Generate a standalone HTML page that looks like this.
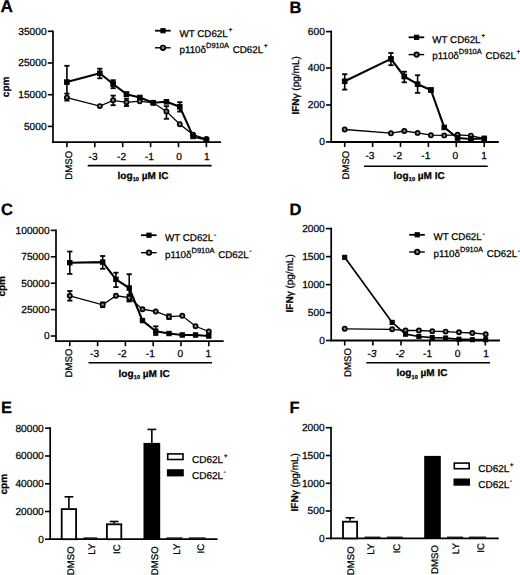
<!DOCTYPE html><html><head><meta charset="utf-8"><style>text{stroke:#000;stroke-width:0.25px;text-rendering:geometricPrecision;}line,polyline{stroke:#000;}html,body{margin:0;padding:0;background:#fff;}svg{display:block;}</style></head><body>
<svg width="520" height="575" viewBox="0 0 520 575" font-family="Liberation Sans, sans-serif" fill="#000" stroke="#000">
<rect x="0" y="0" width="520" height="575" fill="#fff" stroke="none"/>
<g stroke="none" fill="#111">
</g>
<g>
<line x1="53" y1="30.4" x2="53" y2="143" stroke-width="1.7"/>
<line x1="47.8" y1="31.3" x2="53" y2="31.3" stroke-width="1.6"/>
<text x="46.6" y="34.7" font-size="10.2" text-anchor="end" font-weight="normal" >35000</text>
<line x1="47.8" y1="63" x2="53" y2="63" stroke-width="1.6"/>
<text x="46.6" y="66.4" font-size="10.2" text-anchor="end" font-weight="normal" >25000</text>
<line x1="47.8" y1="94.7" x2="53" y2="94.7" stroke-width="1.6"/>
<text x="46.6" y="98.1" font-size="10.2" text-anchor="end" font-weight="normal" >15000</text>
<line x1="47.8" y1="126.4" x2="53" y2="126.4" stroke-width="1.6"/>
<text x="46.6" y="129.8" font-size="10.2" text-anchor="end" font-weight="normal" >5000</text>
<line x1="52.2" y1="142.2" x2="221" y2="142.2" stroke-width="1.8"/>
<line x1="66.9" y1="142.2" x2="66.9" y2="147.2" stroke-width="1.6"/>
<text transform="translate(72.26 150.9) rotate(-90)" font-size="9.6" text-anchor="end" font-weight="normal">DMSO</text>
<line x1="94.8" y1="142.2" x2="94.8" y2="147.2" stroke-width="1.6"/>
<text x="93.1" y="159.6" font-size="10.2" text-anchor="middle" font-weight="normal" >-3</text>
<line x1="122.7" y1="142.2" x2="122.7" y2="147.2" stroke-width="1.6"/>
<text x="121.6" y="159.6" font-size="10.2" text-anchor="middle" font-weight="normal" >-2</text>
<line x1="150.6" y1="142.2" x2="150.6" y2="147.2" stroke-width="1.6"/>
<text x="149.3" y="159.6" font-size="10.2" text-anchor="middle" font-weight="normal" >-1</text>
<line x1="178.5" y1="142.2" x2="178.5" y2="147.2" stroke-width="1.6"/>
<text x="179" y="159.6" font-size="10.2" text-anchor="middle" font-weight="normal" >0</text>
<line x1="206.4" y1="142.2" x2="206.4" y2="147.2" stroke-width="1.6"/>
<text x="206.9" y="159.6" font-size="10.2" text-anchor="middle" font-weight="normal" >1</text>
<line x1="87.7" y1="165.6" x2="211.6" y2="165.6" stroke-width="1.6"/>
<text x="117.5" y="178.6" font-size="10" font-weight="bold">log<tspan font-size="5.6" dy="2.2" dx="0.2">10</tspan><tspan dy="-2.2"> &#181;M IC</tspan></text>
<polyline fill="none" stroke-width="1.3" points="66.9,97.6 99.82,106.1 113.15,100.3 126.47,102.3 139.8,101.2 153.13,102.8 166.45,111.4 179.78,124.3 193.1,134.6 206.43,139"/>
<polyline fill="none" stroke-width="2.1" stroke-linejoin="round" points="66.9,82.1 99.82,73.3 113.15,84 126.47,94.2 139.8,97.5 153.13,102.8 166.45,101.8 179.78,106.8 193.1,136.4 206.43,139.8"/>
<line x1="66.9" y1="65.8" x2="66.9" y2="97.6" stroke-width="1.6"/>
<line x1="64.3" y1="65.8" x2="69.5" y2="65.8" stroke-width="1.8"/>
<line x1="64.3" y1="97.6" x2="69.5" y2="97.6" stroke-width="1.8"/>
<line x1="99.82" y1="68.7" x2="99.82" y2="78.3" stroke-width="1.6"/>
<line x1="97.22" y1="68.7" x2="102.42" y2="68.7" stroke-width="1.8"/>
<line x1="97.22" y1="78.3" x2="102.42" y2="78.3" stroke-width="1.8"/>
<line x1="113.15" y1="80.2" x2="113.15" y2="88.2" stroke-width="1.6"/>
<line x1="110.55" y1="80.2" x2="115.75" y2="80.2" stroke-width="1.8"/>
<line x1="110.55" y1="88.2" x2="115.75" y2="88.2" stroke-width="1.8"/>
<line x1="126.47" y1="92.4" x2="126.47" y2="96" stroke-width="1.6"/>
<line x1="123.87" y1="92.4" x2="129.07" y2="92.4" stroke-width="1.8"/>
<line x1="123.87" y1="96" x2="129.07" y2="96" stroke-width="1.8"/>
<line x1="179.78" y1="102.2" x2="179.78" y2="111.6" stroke-width="1.6"/>
<line x1="177.18" y1="102.2" x2="182.38" y2="102.2" stroke-width="1.8"/>
<line x1="177.18" y1="111.6" x2="182.38" y2="111.6" stroke-width="1.8"/>
<line x1="66.9" y1="93.6" x2="66.9" y2="100.6" stroke-width="1.6"/>
<line x1="64.3" y1="93.6" x2="69.5" y2="93.6" stroke-width="1.8"/>
<line x1="64.3" y1="100.6" x2="69.5" y2="100.6" stroke-width="1.8"/>
<line x1="113.15" y1="95.6" x2="113.15" y2="105.2" stroke-width="1.6"/>
<line x1="110.55" y1="95.6" x2="115.75" y2="95.6" stroke-width="1.8"/>
<line x1="110.55" y1="105.2" x2="115.75" y2="105.2" stroke-width="1.8"/>
<line x1="126.47" y1="98.6" x2="126.47" y2="106" stroke-width="1.6"/>
<line x1="123.87" y1="98.6" x2="129.07" y2="98.6" stroke-width="1.8"/>
<line x1="123.87" y1="106" x2="129.07" y2="106" stroke-width="1.8"/>
<line x1="166.45" y1="106.2" x2="166.45" y2="118.8" stroke-width="1.6"/>
<line x1="163.85" y1="106.2" x2="169.05" y2="106.2" stroke-width="1.8"/>
<line x1="163.85" y1="118.8" x2="169.05" y2="118.8" stroke-width="1.8"/>
<circle cx="66.9" cy="97.6" r="2.1" fill="#888" stroke="#000" stroke-width="1.7"/>
<circle cx="99.82" cy="106.1" r="2.1" fill="#888" stroke="#000" stroke-width="1.7"/>
<circle cx="113.15" cy="100.3" r="2.1" fill="#888" stroke="#000" stroke-width="1.7"/>
<circle cx="126.47" cy="102.3" r="2.1" fill="#888" stroke="#000" stroke-width="1.7"/>
<circle cx="139.8" cy="101.2" r="2.1" fill="#888" stroke="#000" stroke-width="1.7"/>
<circle cx="153.13" cy="102.8" r="2.1" fill="#888" stroke="#000" stroke-width="1.7"/>
<circle cx="166.45" cy="111.4" r="2.1" fill="#888" stroke="#000" stroke-width="1.7"/>
<circle cx="179.78" cy="124.3" r="2.1" fill="#888" stroke="#000" stroke-width="1.7"/>
<circle cx="193.1" cy="134.6" r="2.1" fill="#888" stroke="#000" stroke-width="1.7"/>
<circle cx="206.43" cy="139" r="2.1" fill="#888" stroke="#000" stroke-width="1.7"/>
<rect x="64.6" y="79.8" width="4.6" height="4.6" fill="#000"/>
<rect x="97.52" y="71" width="4.6" height="4.6" fill="#000"/>
<rect x="110.85" y="81.7" width="4.6" height="4.6" fill="#000"/>
<rect x="124.17" y="91.9" width="4.6" height="4.6" fill="#000"/>
<rect x="137.5" y="95.2" width="4.6" height="4.6" fill="#000"/>
<rect x="150.83" y="100.5" width="4.6" height="4.6" fill="#000"/>
<rect x="164.15" y="99.5" width="4.6" height="4.6" fill="#000"/>
<rect x="177.48" y="104.5" width="4.6" height="4.6" fill="#000"/>
<rect x="190.8" y="134.1" width="4.6" height="4.6" fill="#000"/>
<rect x="204.13" y="137.5" width="4.6" height="4.6" fill="#000"/>
<text transform="translate(9 86.9) rotate(-90)" font-size="10" text-anchor="middle" font-weight="bold">cpm</text>
<line x1="155" y1="30.7" x2="170.6" y2="30.7" stroke-width="1.8"/>
<rect x="160.9" y="28.6" width="4.2" height="4.2" fill="#000"/>
<line x1="155" y1="47.8" x2="170.6" y2="47.8" stroke-width="1.4"/>
<circle cx="163" cy="47.8" r="2.3" fill="#888" stroke="#000" stroke-width="1.7"/>
<text x="179.5" y="36.8" font-size="9.8">WT CD62L<tspan font-size="6.8" dx="0.6" dy="-5.3">+</tspan></text>
<text x="179.5" y="53.2" font-size="9.8">p110&#948;<tspan font-size="7.5" dy="-5">D910A</tspan><tspan dy="5" dx="1"> CD62L</tspan><tspan font-size="6.8" dx="0.6" dy="-5.3">+</tspan></text>
<text x="0.4" y="12.4" font-size="17.2" text-anchor="start" font-weight="bold" >A</text>
</g>
<g>
<line x1="331.2" y1="30.6" x2="331.2" y2="142.8" stroke-width="1.7"/>
<line x1="326" y1="31.6" x2="331.2" y2="31.6" stroke-width="1.6"/>
<text x="324.8" y="35" font-size="10.2" text-anchor="end" font-weight="normal" >600</text>
<line x1="326" y1="68" x2="331.2" y2="68" stroke-width="1.6"/>
<text x="324.8" y="71.4" font-size="10.2" text-anchor="end" font-weight="normal" >400</text>
<line x1="326" y1="105" x2="331.2" y2="105" stroke-width="1.6"/>
<text x="324.8" y="108.4" font-size="10.2" text-anchor="end" font-weight="normal" >200</text>
<line x1="326" y1="141.9" x2="331.2" y2="141.9" stroke-width="1.6"/>
<text x="324.8" y="145.3" font-size="10.2" text-anchor="end" font-weight="normal" >0</text>
<line x1="330.4" y1="142" x2="498.8" y2="142" stroke-width="1.8"/>
<line x1="344.7" y1="142" x2="344.7" y2="147" stroke-width="1.6"/>
<text transform="translate(348.66 150.7) rotate(-90)" font-size="9.6" text-anchor="end" font-weight="normal">DMSO</text>
<line x1="372.6" y1="142" x2="372.6" y2="147" stroke-width="1.6"/>
<text x="370" y="159.2" font-size="10.2" text-anchor="middle" font-weight="normal" >-3</text>
<line x1="400.5" y1="142" x2="400.5" y2="147" stroke-width="1.6"/>
<text x="397.6" y="159.2" font-size="10.2" text-anchor="middle" font-weight="normal" >-2</text>
<line x1="428.4" y1="142" x2="428.4" y2="147" stroke-width="1.6"/>
<text x="425.8" y="159.2" font-size="10.2" text-anchor="middle" font-weight="normal" >-1</text>
<line x1="456.3" y1="142" x2="456.3" y2="147" stroke-width="1.6"/>
<text x="455.4" y="159.2" font-size="10.2" text-anchor="middle" font-weight="normal" >0</text>
<line x1="484.2" y1="142" x2="484.2" y2="147" stroke-width="1.6"/>
<text x="484.1" y="159.2" font-size="10.2" text-anchor="middle" font-weight="normal" >1</text>
<line x1="364" y1="166.3" x2="487.7" y2="166.3" stroke-width="1.6"/>
<text x="393.6" y="179" font-size="10" font-weight="bold">log<tspan font-size="5.6" dy="2.2" dx="0.2">10</tspan><tspan dy="-2.2"> &#181;M IC</tspan></text>
<polyline fill="none" stroke-width="1.3" points="344.7,129.5 390.95,133.2 404.27,131 417.6,132.9 430.93,135.2 444.25,135.4 457.58,134.8 470.9,135.6 484.23,138.6"/>
<polyline fill="none" stroke-width="2.1" stroke-linejoin="round" points="344.7,81.3 390.95,58.9 404.27,76.5 417.6,84.2 430.93,90 444.25,127.4 457.58,138 470.9,139 484.23,138.4"/>
<line x1="344.7" y1="74.2" x2="344.7" y2="89.6" stroke-width="1.6"/>
<line x1="342.1" y1="74.2" x2="347.3" y2="74.2" stroke-width="1.8"/>
<line x1="342.1" y1="89.6" x2="347.3" y2="89.6" stroke-width="1.8"/>
<line x1="390.95" y1="53" x2="390.95" y2="65.2" stroke-width="1.6"/>
<line x1="388.35" y1="53" x2="393.55" y2="53" stroke-width="1.8"/>
<line x1="388.35" y1="65.2" x2="393.55" y2="65.2" stroke-width="1.8"/>
<line x1="404.27" y1="71.7" x2="404.27" y2="82.3" stroke-width="1.6"/>
<line x1="401.67" y1="71.7" x2="406.87" y2="71.7" stroke-width="1.8"/>
<line x1="401.67" y1="82.3" x2="406.87" y2="82.3" stroke-width="1.8"/>
<line x1="417.6" y1="75.2" x2="417.6" y2="92.9" stroke-width="1.6"/>
<line x1="415" y1="75.2" x2="420.2" y2="75.2" stroke-width="1.8"/>
<line x1="415" y1="92.9" x2="420.2" y2="92.9" stroke-width="1.8"/>
<line x1="430.93" y1="88.4" x2="430.93" y2="91.6" stroke-width="1.6"/>
<line x1="428.33" y1="88.4" x2="433.53" y2="88.4" stroke-width="1.8"/>
<line x1="428.33" y1="91.6" x2="433.53" y2="91.6" stroke-width="1.8"/>
<circle cx="344.7" cy="129.5" r="2.1" fill="#888" stroke="#000" stroke-width="1.7"/>
<circle cx="390.95" cy="133.2" r="2.1" fill="#888" stroke="#000" stroke-width="1.7"/>
<circle cx="404.27" cy="131" r="2.1" fill="#888" stroke="#000" stroke-width="1.7"/>
<circle cx="417.6" cy="132.9" r="2.1" fill="#888" stroke="#000" stroke-width="1.7"/>
<circle cx="430.93" cy="135.2" r="2.1" fill="#888" stroke="#000" stroke-width="1.7"/>
<circle cx="444.25" cy="135.4" r="2.1" fill="#888" stroke="#000" stroke-width="1.7"/>
<circle cx="457.58" cy="134.8" r="2.1" fill="#888" stroke="#000" stroke-width="1.7"/>
<circle cx="470.9" cy="135.6" r="2.1" fill="#888" stroke="#000" stroke-width="1.7"/>
<circle cx="484.23" cy="138.6" r="2.1" fill="#888" stroke="#000" stroke-width="1.7"/>
<rect x="342.4" y="79" width="4.6" height="4.6" fill="#000"/>
<rect x="388.65" y="56.6" width="4.6" height="4.6" fill="#000"/>
<rect x="401.97" y="74.2" width="4.6" height="4.6" fill="#000"/>
<rect x="415.3" y="81.9" width="4.6" height="4.6" fill="#000"/>
<rect x="428.63" y="87.7" width="4.6" height="4.6" fill="#000"/>
<rect x="441.95" y="125.1" width="4.6" height="4.6" fill="#000"/>
<rect x="455.28" y="135.7" width="4.6" height="4.6" fill="#000"/>
<rect x="468.6" y="136.7" width="4.6" height="4.6" fill="#000"/>
<rect x="481.93" y="136.1" width="4.6" height="4.6" fill="#000"/>
<text transform="translate(298.9 85.4) rotate(-90)" font-size="10" text-anchor="middle" font-weight="normal"><tspan font-weight="bold">IFN</tspan><tspan font-weight="normal">&#947; (pg/mL)</tspan></text>
<line x1="408.6" y1="37.3" x2="424.2" y2="37.3" stroke-width="1.8"/>
<rect x="414.5" y="35.2" width="4.2" height="4.2" fill="#000"/>
<line x1="408.6" y1="54.6" x2="424.2" y2="54.6" stroke-width="1.4"/>
<circle cx="416.6" cy="54.6" r="2.3" fill="#888" stroke="#000" stroke-width="1.7"/>
<text x="432.3" y="42.8" font-size="9.8">WT CD62L<tspan font-size="6.8" dx="0.6" dy="-5.3">+</tspan></text>
<text x="432.3" y="59.4" font-size="9.8">p110&#948;<tspan font-size="7.5" dy="-5">D910A</tspan><tspan dy="5" dx="1"> CD62L</tspan><tspan font-size="6.8" dx="0.6" dy="-5.3">+</tspan></text>
<text x="289.6" y="12.8" font-size="16.5" text-anchor="start" font-weight="bold" >B</text>
</g>
<g>
<line x1="56" y1="229.4" x2="56" y2="342" stroke-width="1.7"/>
<line x1="50.8" y1="230.4" x2="56" y2="230.4" stroke-width="1.6"/>
<text x="49.6" y="233.8" font-size="10.2" text-anchor="end" font-weight="normal" >100000</text>
<line x1="50.8" y1="256.8" x2="56" y2="256.8" stroke-width="1.6"/>
<text x="49.6" y="260.2" font-size="10.2" text-anchor="end" font-weight="normal" >75000</text>
<line x1="50.8" y1="283.2" x2="56" y2="283.2" stroke-width="1.6"/>
<text x="49.6" y="286.6" font-size="10.2" text-anchor="end" font-weight="normal" >50000</text>
<line x1="50.8" y1="309.6" x2="56" y2="309.6" stroke-width="1.6"/>
<text x="49.6" y="313" font-size="10.2" text-anchor="end" font-weight="normal" >25000</text>
<line x1="50.8" y1="336" x2="56" y2="336" stroke-width="1.6"/>
<text x="49.6" y="339.4" font-size="10.2" text-anchor="end" font-weight="normal" >0</text>
<line x1="55.2" y1="341.2" x2="223.7" y2="341.2" stroke-width="1.8"/>
<line x1="69.8" y1="341.2" x2="69.8" y2="346.2" stroke-width="1.6"/>
<text transform="translate(72.46 348.6) rotate(-90)" font-size="9.6" text-anchor="end" font-weight="normal">DMSO</text>
<line x1="97.6" y1="341.2" x2="97.6" y2="346.2" stroke-width="1.6"/>
<text x="94.6" y="356.8" font-size="10.2" text-anchor="middle" font-weight="normal" >-3</text>
<line x1="125.4" y1="341.2" x2="125.4" y2="346.2" stroke-width="1.6"/>
<text x="122.2" y="356.8" font-size="10.2" text-anchor="middle" font-weight="normal" >-2</text>
<line x1="153.2" y1="341.2" x2="153.2" y2="346.2" stroke-width="1.6"/>
<text x="150.4" y="356.8" font-size="10.2" text-anchor="middle" font-weight="normal" >-1</text>
<line x1="181" y1="341.2" x2="181" y2="346.2" stroke-width="1.6"/>
<text x="180.4" y="356.8" font-size="10.2" text-anchor="middle" font-weight="normal" >0</text>
<line x1="208.8" y1="341.2" x2="208.8" y2="346.2" stroke-width="1.6"/>
<text x="208.3" y="356.8" font-size="10.2" text-anchor="middle" font-weight="normal" >1</text>
<line x1="88.5" y1="362.7" x2="212" y2="362.7" stroke-width="1.6"/>
<text x="118.6" y="376.6" font-size="10" font-weight="bold">log<tspan font-size="5.6" dy="2.2" dx="0.2">10</tspan><tspan dy="-2.2"> &#181;M IC</tspan></text>
<polyline fill="none" stroke-width="1.3" points="69.8,295.8 102.69,304.8 115.95,295.8 129.22,297.7 142.48,309.2 155.74,311.5 169.01,316.7 182.27,315.8 195.54,326.3 208.8,331.5"/>
<polyline fill="none" stroke-width="2.1" stroke-linejoin="round" points="69.8,262.7 102.69,262.1 115.95,279.4 129.22,288 142.48,320.6 155.74,331.2 169.01,333.5 182.27,335 195.54,335 208.8,336"/>
<line x1="69.8" y1="251.5" x2="69.8" y2="273.9" stroke-width="1.6"/>
<line x1="67.2" y1="251.5" x2="72.4" y2="251.5" stroke-width="1.8"/>
<line x1="67.2" y1="273.9" x2="72.4" y2="273.9" stroke-width="1.8"/>
<line x1="102.69" y1="256" x2="102.69" y2="268.8" stroke-width="1.6"/>
<line x1="100.09" y1="256" x2="105.29" y2="256" stroke-width="1.8"/>
<line x1="100.09" y1="268.8" x2="105.29" y2="268.8" stroke-width="1.8"/>
<line x1="115.95" y1="272.7" x2="115.95" y2="287.1" stroke-width="1.6"/>
<line x1="113.35" y1="272.7" x2="118.55" y2="272.7" stroke-width="1.8"/>
<line x1="113.35" y1="287.1" x2="118.55" y2="287.1" stroke-width="1.8"/>
<line x1="129.22" y1="274.2" x2="129.22" y2="300.6" stroke-width="1.6"/>
<line x1="126.62" y1="274.2" x2="131.82" y2="274.2" stroke-width="1.8"/>
<line x1="126.62" y1="300.6" x2="131.82" y2="300.6" stroke-width="1.8"/>
<line x1="155.74" y1="326.3" x2="155.74" y2="335" stroke-width="1.6"/>
<line x1="153.14" y1="326.3" x2="158.34" y2="326.3" stroke-width="1.8"/>
<line x1="153.14" y1="335" x2="158.34" y2="335" stroke-width="1.8"/>
<line x1="69.8" y1="291" x2="69.8" y2="300.6" stroke-width="1.6"/>
<line x1="67.2" y1="291" x2="72.4" y2="291" stroke-width="1.8"/>
<line x1="67.2" y1="300.6" x2="72.4" y2="300.6" stroke-width="1.8"/>
<line x1="102.69" y1="302.4" x2="102.69" y2="307.2" stroke-width="1.6"/>
<line x1="100.09" y1="302.4" x2="105.29" y2="302.4" stroke-width="1.8"/>
<line x1="100.09" y1="307.2" x2="105.29" y2="307.2" stroke-width="1.8"/>
<line x1="129.22" y1="294.8" x2="129.22" y2="301.5" stroke-width="1.6"/>
<line x1="126.62" y1="294.8" x2="131.82" y2="294.8" stroke-width="1.8"/>
<line x1="126.62" y1="301.5" x2="131.82" y2="301.5" stroke-width="1.8"/>
<line x1="169.01" y1="314.4" x2="169.01" y2="319" stroke-width="1.6"/>
<line x1="166.41" y1="314.4" x2="171.61" y2="314.4" stroke-width="1.8"/>
<line x1="166.41" y1="319" x2="171.61" y2="319" stroke-width="1.8"/>
<circle cx="69.8" cy="295.8" r="2.1" fill="#888" stroke="#000" stroke-width="1.7"/>
<circle cx="102.69" cy="304.8" r="2.1" fill="#888" stroke="#000" stroke-width="1.7"/>
<circle cx="115.95" cy="295.8" r="2.1" fill="#888" stroke="#000" stroke-width="1.7"/>
<circle cx="129.22" cy="297.7" r="2.1" fill="#888" stroke="#000" stroke-width="1.7"/>
<circle cx="142.48" cy="309.2" r="2.1" fill="#888" stroke="#000" stroke-width="1.7"/>
<circle cx="155.74" cy="311.5" r="2.1" fill="#888" stroke="#000" stroke-width="1.7"/>
<circle cx="169.01" cy="316.7" r="2.1" fill="#888" stroke="#000" stroke-width="1.7"/>
<circle cx="182.27" cy="315.8" r="2.1" fill="#888" stroke="#000" stroke-width="1.7"/>
<circle cx="195.54" cy="326.3" r="2.1" fill="#888" stroke="#000" stroke-width="1.7"/>
<circle cx="208.8" cy="331.5" r="2.1" fill="#888" stroke="#000" stroke-width="1.7"/>
<rect x="67.6" y="260.5" width="4.4" height="4.4" fill="#000"/>
<rect x="100.49" y="259.9" width="4.4" height="4.4" fill="#000"/>
<rect x="113.75" y="277.2" width="4.4" height="4.4" fill="#000"/>
<rect x="127.02" y="285.8" width="4.4" height="4.4" fill="#000"/>
<rect x="140.28" y="318.4" width="4.4" height="4.4" fill="#000"/>
<rect x="153.54" y="329" width="4.4" height="4.4" fill="#000"/>
<rect x="166.81" y="331.3" width="4.4" height="4.4" fill="#000"/>
<rect x="180.07" y="332.8" width="4.4" height="4.4" fill="#000"/>
<rect x="193.34" y="332.8" width="4.4" height="4.4" fill="#000"/>
<rect x="206.6" y="333.8" width="4.4" height="4.4" fill="#000"/>
<text transform="translate(5.3 286.3) rotate(-90)" font-size="10" text-anchor="middle" font-weight="bold">cpm</text>
<line x1="141" y1="235.2" x2="156.6" y2="235.2" stroke-width="1.8"/>
<rect x="146.9" y="233.1" width="4.2" height="4.2" fill="#000"/>
<line x1="141" y1="252.7" x2="156.6" y2="252.7" stroke-width="1.4"/>
<circle cx="149" cy="252.7" r="2.3" fill="#888" stroke="#000" stroke-width="1.7"/>
<text x="165" y="240.9" font-size="9.8">WT CD62L<tspan font-size="6.8" dx="0.6" dy="-4.3">-</tspan></text>
<text x="165" y="257.8" font-size="9.8">p110&#948;<tspan font-size="7.5" dy="-5">D910A</tspan><tspan dy="5" dx="1"> CD62L</tspan><tspan font-size="6.8" dx="0.6" dy="-4.3">-</tspan></text>
<text x="1" y="214.6" font-size="16.5" text-anchor="start" font-weight="bold" >C</text>
</g>
<g>
<line x1="331.2" y1="227.7" x2="331.2" y2="341.3" stroke-width="1.7"/>
<line x1="326" y1="228.6" x2="331.2" y2="228.6" stroke-width="1.6"/>
<text x="324.8" y="232" font-size="10.2" text-anchor="end" font-weight="normal" >2000</text>
<line x1="326" y1="256.6" x2="331.2" y2="256.6" stroke-width="1.6"/>
<text x="324.8" y="260" font-size="10.2" text-anchor="end" font-weight="normal" >1500</text>
<line x1="326" y1="284.6" x2="331.2" y2="284.6" stroke-width="1.6"/>
<text x="324.8" y="288" font-size="10.2" text-anchor="end" font-weight="normal" >1000</text>
<line x1="326" y1="312.6" x2="331.2" y2="312.6" stroke-width="1.6"/>
<text x="324.8" y="316" font-size="10.2" text-anchor="end" font-weight="normal" >500</text>
<line x1="326" y1="340.5" x2="331.2" y2="340.5" stroke-width="1.6"/>
<text x="324.8" y="343.9" font-size="10.2" text-anchor="end" font-weight="normal" >0</text>
<line x1="330.4" y1="340.5" x2="499.9" y2="340.5" stroke-width="1.8"/>
<line x1="344.7" y1="340.5" x2="344.7" y2="345.5" stroke-width="1.6"/>
<text transform="translate(350.56 348.1) rotate(-90)" font-size="9.6" text-anchor="end" font-weight="normal">DMSO</text>
<line x1="372.9" y1="340.5" x2="372.9" y2="345.5" stroke-width="1.6"/>
<text x="371.9" y="356.6" font-size="10.2" text-anchor="middle" font-weight="normal" font-style="italic">-3</text>
<line x1="401" y1="340.5" x2="401" y2="345.5" stroke-width="1.6"/>
<text x="400" y="356.6" font-size="10.2" text-anchor="middle" font-weight="normal" font-style="italic">-2</text>
<line x1="429.8" y1="340.5" x2="429.8" y2="345.5" stroke-width="1.6"/>
<text x="427.6" y="356.6" font-size="10.2" text-anchor="middle" font-weight="normal" >-1</text>
<line x1="458.2" y1="340.5" x2="458.2" y2="345.5" stroke-width="1.6"/>
<text x="457.5" y="356.6" font-size="10.2" text-anchor="middle" font-weight="normal" >0</text>
<line x1="485.3" y1="340.5" x2="485.3" y2="345.5" stroke-width="1.6"/>
<text x="486" y="356.6" font-size="10.2" text-anchor="middle" font-weight="normal" >1</text>
<line x1="366.3" y1="362.7" x2="490" y2="362.7" stroke-width="1.6"/>
<text x="396.4" y="376.4" font-size="10" font-weight="bold">log<tspan font-size="5.6" dy="2.2" dx="0.2">10</tspan><tspan dy="-2.2"> &#181;M IC</tspan></text>
<polyline fill="none" stroke-width="1.3" points="344.7,328.8 392.18,329.3 405.54,330.5 418.9,330.5 432.26,331.2 445.62,331.6 458.98,332.3 472.34,333 485.7,334.2"/>
<polyline fill="none" stroke-width="1.7" stroke-linejoin="round" points="344.7,257.3 392.18,322.4 405.54,334.2 418.9,336.5 432.26,337.6 445.62,338 458.98,339.2 472.34,339.7 485.7,339.7"/>
<circle cx="344.7" cy="328.8" r="2.1" fill="#888" stroke="#000" stroke-width="1.7"/>
<circle cx="392.18" cy="329.3" r="2.1" fill="#888" stroke="#000" stroke-width="1.7"/>
<circle cx="405.54" cy="330.5" r="2.1" fill="#888" stroke="#000" stroke-width="1.7"/>
<circle cx="418.9" cy="330.5" r="2.1" fill="#888" stroke="#000" stroke-width="1.7"/>
<circle cx="432.26" cy="331.2" r="2.1" fill="#888" stroke="#000" stroke-width="1.7"/>
<circle cx="445.62" cy="331.6" r="2.1" fill="#888" stroke="#000" stroke-width="1.7"/>
<circle cx="458.98" cy="332.3" r="2.1" fill="#888" stroke="#000" stroke-width="1.7"/>
<circle cx="472.34" cy="333" r="2.1" fill="#888" stroke="#000" stroke-width="1.7"/>
<circle cx="485.7" cy="334.2" r="2.1" fill="#888" stroke="#000" stroke-width="1.7"/>
<rect x="342.65" y="255.25" width="4.1" height="4.1" fill="#000"/>
<rect x="390.13" y="320.35" width="4.1" height="4.1" fill="#000"/>
<rect x="403.49" y="332.15" width="4.1" height="4.1" fill="#000"/>
<rect x="416.85" y="334.45" width="4.1" height="4.1" fill="#000"/>
<rect x="430.21" y="335.55" width="4.1" height="4.1" fill="#000"/>
<rect x="443.57" y="335.95" width="4.1" height="4.1" fill="#000"/>
<rect x="456.93" y="337.15" width="4.1" height="4.1" fill="#000"/>
<rect x="470.29" y="337.65" width="4.1" height="4.1" fill="#000"/>
<rect x="483.65" y="337.65" width="4.1" height="4.1" fill="#000"/>
<text transform="translate(293.4 283.3) rotate(-90)" font-size="10" text-anchor="middle" font-weight="normal"><tspan font-weight="bold">IFN</tspan><tspan font-weight="normal">&#947; (pg/mL)</tspan></text>
<line x1="409.2" y1="234.8" x2="424.8" y2="234.8" stroke-width="1.8"/>
<rect x="415.1" y="232.7" width="4.2" height="4.2" fill="#000"/>
<line x1="409.2" y1="252" x2="424.8" y2="252" stroke-width="1.4"/>
<circle cx="417.2" cy="252" r="2.3" fill="#888" stroke="#000" stroke-width="1.7"/>
<text x="433.5" y="240.1" font-size="9.8">WT CD62L<tspan font-size="6.8" dx="0.6" dy="-4.3">-</tspan></text>
<text x="433.5" y="256.9" font-size="9.8">p110&#948;<tspan font-size="7.5" dy="-5">D910A</tspan><tspan dy="5" dx="1"> CD62L</tspan><tspan font-size="6.8" dx="0.6" dy="-4.3">-</tspan></text>
<text x="289.4" y="214.6" font-size="16.5" text-anchor="start" font-weight="bold" >D</text>
</g>
<line x1="50.2" y1="427.3" x2="50.2" y2="540" stroke-width="1.7"/>
<line x1="45" y1="428.2" x2="50.2" y2="428.2" stroke-width="1.6"/>
<text x="43.8" y="431.6" font-size="10.2" text-anchor="end" font-weight="normal" >80000</text>
<line x1="45" y1="456" x2="50.2" y2="456" stroke-width="1.6"/>
<text x="43.8" y="459.4" font-size="10.2" text-anchor="end" font-weight="normal" >60000</text>
<line x1="45" y1="483.8" x2="50.2" y2="483.8" stroke-width="1.6"/>
<text x="43.8" y="487.2" font-size="10.2" text-anchor="end" font-weight="normal" >40000</text>
<line x1="45" y1="511.5" x2="50.2" y2="511.5" stroke-width="1.6"/>
<text x="43.8" y="514.9" font-size="10.2" text-anchor="end" font-weight="normal" >20000</text>
<line x1="45" y1="539.2" x2="50.2" y2="539.2" stroke-width="1.6"/>
<text x="43.8" y="542.6" font-size="10.2" text-anchor="end" font-weight="normal" >0</text>
<line x1="49.4" y1="539.2" x2="217.6" y2="539.2" stroke-width="1.8"/>
<line x1="68.9" y1="496.8" x2="68.9" y2="508.2" stroke-width="1.6"/>
<line x1="64.5" y1="496.8" x2="73.3" y2="496.8" stroke-width="1.6"/>
<rect x="61.7" y="509.1" width="14.4" height="30.1" fill="#fff" stroke="#000" stroke-width="1.8"/>
<rect x="83.5" y="537.4" width="13.8" height="1.2" fill="#000" stroke="none"/>
<line x1="114.1" y1="521.5" x2="114.1" y2="523.4" stroke-width="1.6"/>
<line x1="109.7" y1="521.5" x2="118.5" y2="521.5" stroke-width="1.6"/>
<rect x="106.9" y="524.3" width="14.4" height="14.9" fill="#fff" stroke="#000" stroke-width="1.8"/>
<line x1="151.85" y1="429.4" x2="151.85" y2="442.9" stroke-width="1.6"/>
<line x1="147.45" y1="429.4" x2="156.25" y2="429.4" stroke-width="1.6"/>
<rect x="143.5" y="442.9" width="16.7" height="96.3" fill="#000" stroke="none"/>
<rect x="166.4" y="537.4" width="16.2" height="1.2" fill="#000" stroke="none"/>
<rect x="188.8" y="537.4" width="16.7" height="1.2" fill="#000" stroke="none"/>
<text transform="translate(74.26 546.4) rotate(-90)" font-size="9.6" text-anchor="end" font-weight="normal">DMSO</text>
<text transform="translate(95.36 543.7) rotate(-90)" font-size="9.6" text-anchor="end" font-weight="normal">LY</text>
<text transform="translate(119.96 544.4) rotate(-90)" font-size="9.6" text-anchor="end" font-weight="normal">IC</text>
<text transform="translate(158.46 546.4) rotate(-90)" font-size="9.6" text-anchor="end" font-weight="normal">DMSO</text>
<text transform="translate(179.86 543.7) rotate(-90)" font-size="9.6" text-anchor="end" font-weight="normal">LY</text>
<text transform="translate(204.46 543.9) rotate(-90)" font-size="9.6" text-anchor="end" font-weight="normal">IC</text>
<rect x="167.7" y="453.9" width="15.3" height="5.6" fill="#fff" stroke="#000" stroke-width="1.6"/>
<rect x="166.9" y="469.2" width="16.9" height="7.2" fill="#000" stroke="none"/>
<text x="192" y="462.8" font-size="10">CD62L<tspan font-size="6.6" dx="0.5" dy="-5.0">+</tspan></text>
<text x="192" y="478.5" font-size="10">CD62L<tspan font-size="7" dx="0.4" dy="-4.4">-</tspan></text>
<text transform="translate(7 484.2) rotate(-90)" font-size="10" text-anchor="middle" font-weight="bold">cpm</text>
<text x="1" y="412.7" font-size="16.5" text-anchor="start" font-weight="bold" >E</text>
<line x1="331" y1="426.8" x2="331" y2="539.2" stroke-width="1.7"/>
<line x1="325.8" y1="427.7" x2="331" y2="427.7" stroke-width="1.6"/>
<text x="324.6" y="431.1" font-size="10.2" text-anchor="end" font-weight="normal" >2000</text>
<line x1="325.8" y1="455.5" x2="331" y2="455.5" stroke-width="1.6"/>
<text x="324.6" y="458.9" font-size="10.2" text-anchor="end" font-weight="normal" >1500</text>
<line x1="325.8" y1="483.3" x2="331" y2="483.3" stroke-width="1.6"/>
<text x="324.6" y="486.7" font-size="10.2" text-anchor="end" font-weight="normal" >1000</text>
<line x1="325.8" y1="511" x2="331" y2="511" stroke-width="1.6"/>
<text x="324.6" y="514.4" font-size="10.2" text-anchor="end" font-weight="normal" >500</text>
<line x1="325.8" y1="538.4" x2="331" y2="538.4" stroke-width="1.6"/>
<text x="324.6" y="541.8" font-size="10.2" text-anchor="end" font-weight="normal" >0</text>
<line x1="330.2" y1="538.4" x2="498.8" y2="538.4" stroke-width="1.8"/>
<line x1="350.05" y1="517.8" x2="350.05" y2="520.8" stroke-width="1.6"/>
<line x1="345.65" y1="517.8" x2="354.45" y2="517.8" stroke-width="1.6"/>
<rect x="343" y="521.7" width="14.1" height="16.7" fill="#fff" stroke="#000" stroke-width="1.8"/>
<rect x="364.6" y="536.6" width="15.9" height="1.2" fill="#000" stroke="none"/>
<rect x="386.8" y="536.6" width="15.9" height="1.2" fill="#000" stroke="none"/>
<rect x="424.2" y="455.9" width="16.6" height="82.5" fill="#000" stroke="none"/>
<rect x="447" y="536.6" width="16" height="1.2" fill="#000" stroke="none"/>
<rect x="469" y="536.6" width="17" height="1.2" fill="#000" stroke="none"/>
<text transform="translate(353.86 546.4) rotate(-90)" font-size="9.6" text-anchor="end" font-weight="normal">DMSO</text>
<text transform="translate(374.46 543.7) rotate(-90)" font-size="9.6" text-anchor="end" font-weight="normal">LY</text>
<text transform="translate(399.96 543.7) rotate(-90)" font-size="9.6" text-anchor="end" font-weight="normal">IC</text>
<text transform="translate(437.76 545.1) rotate(-90)" font-size="9.6" text-anchor="end" font-weight="normal">DMSO</text>
<text transform="translate(458.66 543.1) rotate(-90)" font-size="9.6" text-anchor="end" font-weight="normal">LY</text>
<text transform="translate(484.06 543.1) rotate(-90)" font-size="9.6" text-anchor="end" font-weight="normal">IC</text>
<rect x="454.3" y="463.1" width="14.9" height="5.6" fill="#fff" stroke="#000" stroke-width="1.6"/>
<rect x="453.5" y="478.5" width="16.5" height="7.2" fill="#000" stroke="none"/>
<text x="478.2" y="472" font-size="10">CD62L<tspan font-size="6.6" dx="0.5" dy="-5.0">+</tspan></text>
<text x="478.2" y="487.7" font-size="10">CD62L<tspan font-size="7" dx="0.4" dy="-4.4">-</tspan></text>
<text transform="translate(297.6 482.3) rotate(-90)" font-size="10" text-anchor="middle" font-weight="normal"><tspan font-weight="bold">IFN</tspan><tspan font-weight="normal">&#947; (pg/mL)</tspan></text>
<text x="289.6" y="412.7" font-size="16.5" text-anchor="start" font-weight="bold" >F</text>
</svg></body></html>
